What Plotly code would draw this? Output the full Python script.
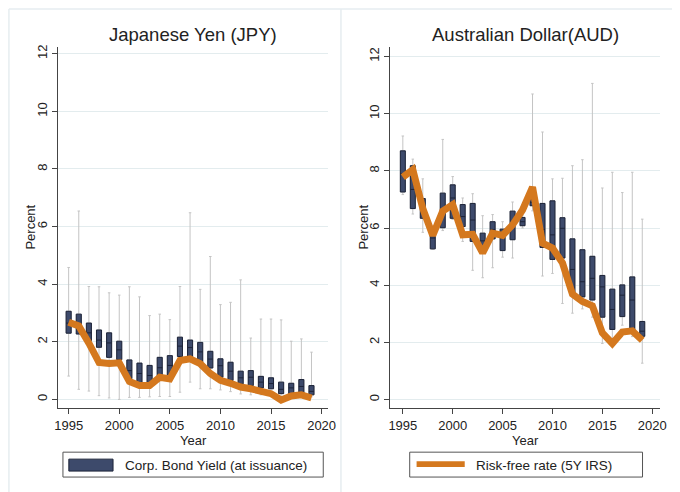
import plotly.graph_objects as go

years = list(range(1995, 2020))

# Japanese Yen (JPY): corporate bond yield at issuance (box stats) and 5Y IRS
jpy_q3 = [3.06, 2.96, 2.65, 2.41, 2.31, 2.02, 1.37, 1.26, 1.18, 1.46, 1.52, 2.16, 2.06,
          1.98, 1.67, 1.41, 1.29, 0.98, 1.00, 0.80, 0.75, 0.60, 0.56, 0.69, 0.48]
jpy_med = [2.65, 2.60, 2.31, 2.06, 1.96, 1.72, 1.00, 0.90, 0.83, 1.10, 1.18, 1.85, 1.80,
           1.65, 1.40, 1.17, 0.98, 0.75, 0.77, 0.60, 0.55, 0.35, 0.40, 0.45, 0.28]
jpy_q1 = [2.30, 2.27, 2.04, 1.81, 1.46, 1.38, 0.72, 0.54, 0.54, 0.68, 0.77, 1.49, 1.41,
          1.29, 1.09, 0.77, 0.66, 0.54, 0.48, 0.40, 0.37, 0.20, 0.20, 0.22, 0.16]
jpy_hi = [4.58, 6.54, 3.92, 3.91, 3.70, 3.62, 3.91, 3.56, 2.91, 2.96, 2.77, 3.92, 6.48,
          3.82, 4.96, 3.29, 3.37, 4.15, 2.13, 2.79, 2.79, 2.76, 2.02, 2.10, 1.64]
jpy_lo = [0.81, 0.35, 0.29, 0.13, 0.05, 0.00, 0.07, 0.07, 0.09, 0.10, 0.10, 0.25, 0.60,
          0.37, 0.37, 0.33, 0.27, 0.19, 0.16, 0.16, 0.10, 0.09, 0.10, 0.10, 0.09]
jpy_rf = [2.68, 2.55, 1.95, 1.28, 1.25, 1.27, 0.62, 0.48, 0.48, 0.77, 0.71, 1.35, 1.41,
          1.24, 0.90, 0.66, 0.56, 0.43, 0.37, 0.29, 0.20, -0.02, 0.12, 0.16, 0.05]

# Australian Dollar (AUD)
aud_q3 = [8.70, 8.18, 7.03, 5.82, 7.22, 7.51, 6.82, 6.86, 5.82, 6.22, 5.96, 6.59, 6.37,
          7.05, 6.86, 6.95, 6.36, 5.62, 5.24, 5.01, 4.34, 3.86, 4.01, 4.29, 2.73]
aud_med = [7.90, 7.35, 6.70, 5.65, 6.60, 7.05, 6.40, 6.28, 5.55, 5.95, 5.75, 6.15, 6.22,
           6.90, 5.95, 5.76, 5.99, 4.55, 4.12, 4.24, 3.94, 3.15, 3.65, 3.48, 2.39]
aud_q1 = [7.26, 6.68, 6.34, 5.27, 6.01, 6.34, 6.05, 5.53, 5.18, 5.62, 5.21, 5.59, 6.08,
          6.78, 5.32, 4.90, 4.95, 3.69, 3.59, 3.48, 2.88, 2.45, 2.90, 2.39, 2.21]
aud_hi = [9.22, 8.41, 7.72, 5.90, 9.10, 7.80, 7.05, 7.20, 6.43, 6.47, 6.22, 6.91, 6.45,
          10.69, 9.36, 7.72, 7.74, 8.18, 8.39, 11.06, 7.40, 7.95, 7.24, 7.95, 6.31]
aud_lo = [7.17, 6.49, 5.85, 5.25, 5.91, 6.30, 5.53, 4.52, 4.26, 4.61, 4.98, 4.95, 6.00,
          6.60, 4.32, 4.41, 3.36, 3.02, 3.17, 2.88, 1.96, 1.95, 2.60, 2.20, 1.27]
aud_rf = [7.78, 8.04, 6.68, 5.74, 6.59, 6.82, 5.76, 5.78, 5.13, 5.82, 5.74, 6.11, 6.63,
          7.43, 5.47, 5.30, 4.78, 3.69, 3.43, 3.28, 2.33, 1.96, 2.36, 2.40, 2.07]

titles = ["Japanese Yen (JPY)", "Australian Dollar(AUD)"]
legend_labels = ["Corp. Bond Yield (at issuance)", "Risk-free rate (5Y IRS)"]
axis_titles = ["Year", "Percent"]
x_ticks = [1995, 2000, 2005, 2010, 2015, 2020]
y_ticks = [0, 2, 4, 6, 8, 10, 12]

NAVY = "#3d4a6b"
NAVY_LINE = "#1c2338"
WHISK = "#c4c4c4"
ORANGE = "#d4781e"
FONT = "Liberation Sans, Arial, sans-serif"
TXT = "#222222"

W, H = 680, 492
def px(x):
    return x / W
def py(y):
    return 1 - y / H

fig = go.Figure()

panels = [
    ("x", "y", jpy_q1, jpy_med, jpy_q3, jpy_lo, jpy_hi, jpy_rf),
    ("x2", "y2", aud_q1, aud_med, aud_q3, aud_lo, aud_hi, aud_rf),
]
for xa, ya, q1, med, q3, lo, hi, rf in panels:
    # whiskers (light gray)
    fig.add_trace(go.Box(
        x=years, q1=q1, median=med, q3=q3, lowerfence=lo, upperfence=hi,
        xaxis=xa, yaxis=ya, width=0.5, whiskerwidth=0.5,
        line=dict(color=WHISK, width=1), fillcolor=WHISK,
        boxpoints=False, showlegend=False, hoverinfo="skip"))
    # boxes (navy)
    fig.add_trace(go.Box(
        x=years, q1=q1, median=med, q3=q3, lowerfence=q1, upperfence=q3,
        xaxis=xa, yaxis=ya, width=0.5, whiskerwidth=0,
        line=dict(color=NAVY_LINE, width=1), fillcolor=NAVY,
        boxpoints=False, showlegend=False))
    # risk-free line
    fig.add_trace(go.Scatter(
        x=years, y=rf, xaxis=xa, yaxis=ya, mode="lines",
        line=dict(color=ORANGE, width=7, shape="linear"),
        showlegend=False))

ydom = [py(408), py(45)]
axis_common = dict(
    showline=True, linecolor="#444444", linewidth=1,
    ticks="outside", ticklen=5, tickcolor="#444444", tickwidth=1,
    tickfont=dict(family=FONT, size=13, color=TXT),
    zeroline=False,
)
fig.update_layout(
    width=W, height=H,
    margin=dict(l=0, r=0, t=0, b=0),
    paper_bgcolor="white", plot_bgcolor="white",
    boxmode="overlay",
    font=dict(family=FONT, size=13, color=TXT),
    xaxis=dict(domain=[px(55), px(330)], range=[1993.95, 2020.65], anchor="y",
               tickvals=x_ticks, showgrid=False,
               title=dict(text=axis_titles[0], standoff=0, font=dict(size=13)), **axis_common),
    yaxis=dict(domain=ydom, range=[-0.31, 12.24], anchor="x",
               tickvals=y_ticks, tickangle=-90, showgrid=True,
               gridcolor="#e3ecee", gridwidth=1, **axis_common),
    xaxis2=dict(domain=[px(393), px(668)], range=[1993.72, 2020.8], anchor="y2",
                tickvals=x_ticks, showgrid=False,
                title=dict(text=axis_titles[0], standoff=0, font=dict(size=13)), **axis_common),
    yaxis2=dict(domain=ydom, range=[-0.31, 12.34], anchor="x2",
                tickvals=y_ticks, tickangle=-90, showgrid=True,
                gridcolor="#e3ecee", gridwidth=1, **axis_common),
)

# panel frames and legend keys
frame_col = "#e6edf0"
shapes = [
    dict(type="line", xref="paper", yref="paper", x0=px(5), x1=1, y0=py(7), y1=py(7),
         line=dict(color=frame_col, width=1.5)),
    dict(type="line", xref="paper", yref="paper", x0=px(5), x1=px(5), y0=py(7), y1=0,
         line=dict(color=frame_col, width=1.5)),
    dict(type="line", xref="paper", yref="paper", x0=px(343), x1=px(343), y0=py(7), y1=0,
         line=dict(color=frame_col, width=1.5)),
    dict(type="rect", xref="paper", yref="paper", x0=px(60), x1=px(325), y0=py(477), y1=py(452),
         line=dict(color="#555555", width=1), fillcolor="white"),
    dict(type="rect", xref="paper", yref="paper", x0=px(66), x1=px(111), y0=py(471), y1=py(459),
         line=dict(color=NAVY_LINE, width=1), fillcolor=NAVY),
    dict(type="rect", xref="paper", yref="paper", x0=px(413), x1=px(650), y0=py(477), y1=py(452),
         line=dict(color="#555555", width=1), fillcolor="white"),
    dict(type="rect", xref="paper", yref="paper", x0=px(420), x1=px(469), y0=py(467), y1=py(461),
         line=dict(width=0), fillcolor=ORANGE),
]
fig.update_layout(shapes=shapes)

def ann(text, x, y, size=13, angle=0, anchor="center"):
    return dict(text=text, x=px(x), y=py(y), xref="paper", yref="paper",
                showarrow=False, textangle=angle, xanchor=anchor, yanchor="middle",
                font=dict(family=FONT, size=size, color=TXT))

annotations = [
    ann(titles[0], 192, 33, size=18.5),
    ann(titles[1], 531, 33, size=18.5),
    ann(legend_labels[0], 121, 465, size=13.5, anchor="left"),
    ann(legend_labels[1], 478, 465, size=13.5, anchor="left"),
    ann(axis_titles[1], 27, 226, angle=-90),
    ann(axis_titles[1], 366, 226, angle=-90),
]
fig.update_layout(annotations=annotations)

fig.write_html("out.html",
               config={"displayModeBar": False},
               post_script="document.body.style.margin='0';document.body.style.overflow='hidden';")
